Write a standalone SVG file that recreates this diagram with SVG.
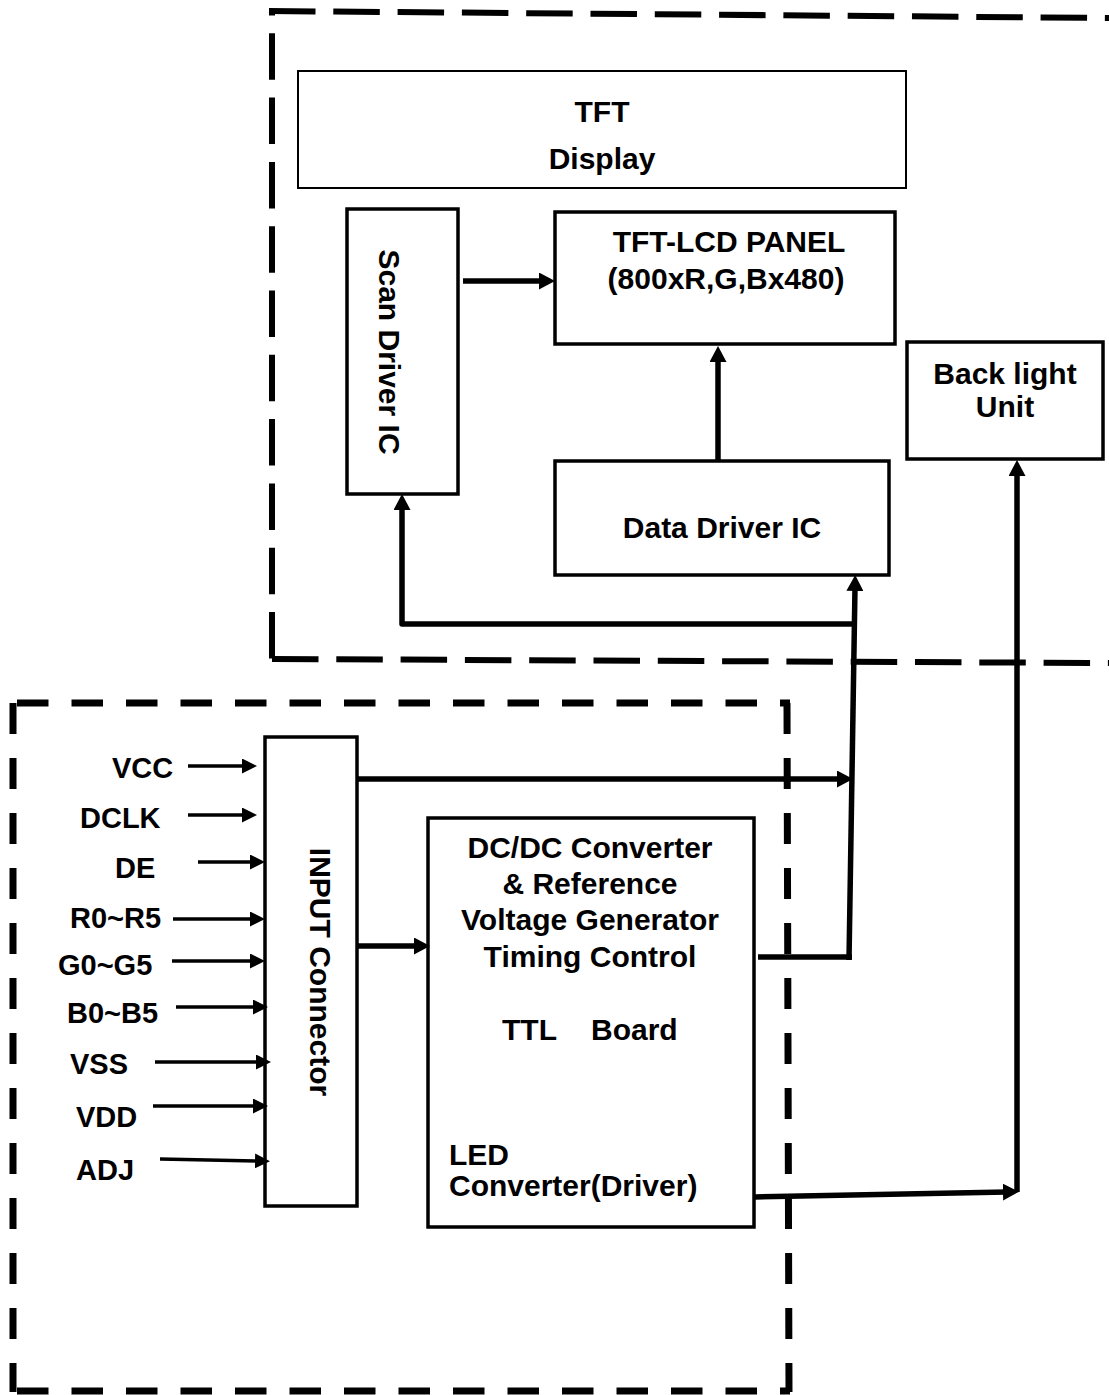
<svg xmlns="http://www.w3.org/2000/svg" width="1109" height="1395" viewBox="0 0 1109 1395">
<style>
text{font-family:"Liberation Sans",Arial,sans-serif;font-weight:bold;font-size:30px;fill:#000}
.lbl{font-size:29px}
.box{fill:#fff;stroke:#000;stroke-width:3.5}
.thin{fill:#fff;stroke:#000;stroke-width:2}
.dash1{fill:none;stroke:#000;stroke-width:6;stroke-dasharray:46.5 17.8}
.dash2{fill:none;stroke:#000;stroke-width:7;stroke-dasharray:31.5 23}
.conn{fill:none;stroke:#000;stroke-width:5.5}
.inp{fill:none;stroke:#000;stroke-width:3.5}
</style>
<defs>
<marker id="ah" markerUnits="userSpaceOnUse" markerWidth="16" markerHeight="17" refX="4" refY="8.5" orient="auto" viewBox="0 0 16 17">
<path d="M0,0 L16,8.5 L0,17 z" fill="#000"/>
</marker>
<marker id="ahs" markerUnits="userSpaceOnUse" markerWidth="15" markerHeight="15" refX="4" refY="7.5" orient="auto" viewBox="0 0 15 15">
<path d="M0,0 L15,7.5 L0,15 z" fill="#000"/>
</marker>
</defs>

<g id="boundaries">
<path class="dash1" d="M269,11 L1109,18"/>
<path class="dash1" d="M272,11 L272,662" style="stroke-dashoffset:42"/>
<path class="dash1" d="M272,659 L1109,663"/>
<path class="dash2" d="M17,703 L790,703"/>
<path class="dash2" d="M13,703 L13,1392" style="stroke-dasharray:31 24"/>
<path class="dash2" d="M787,703 L789,1392" style="stroke-dasharray:31 24"/>
<path class="dash2" d="M17,1391 L790,1391"/>
</g>

<g id="tft-display">
<rect class="thin" x="298" y="71" width="608" height="117"/>
<text x="602" y="122" text-anchor="middle">TFT</text>
<text x="602" y="169" text-anchor="middle">Display</text>
</g>

<g id="scan-driver">
<rect class="box" x="347" y="209" width="111" height="285"/>
<text transform="translate(379,352) rotate(90)" text-anchor="middle">Scan Driver IC</text>
</g>

<g id="tft-lcd-panel">
<rect class="box" x="555" y="212" width="340" height="132"/>
<text x="729" y="252" text-anchor="middle">TFT-LCD PANEL</text>
<text x="726" y="289" text-anchor="middle">(800xR,G,Bx480)</text>
</g>

<g id="data-driver">
<rect class="box" x="555" y="461" width="334" height="114"/>
<text x="722" y="538" text-anchor="middle">Data Driver IC</text>
</g>

<g id="backlight">
<rect class="box" x="907" y="342" width="196" height="117"/>
<text x="1005" y="384" text-anchor="middle">Back light</text>
<text x="1005" y="417" text-anchor="middle">Unit</text>
</g>

<g id="input-connector">
<rect class="box" x="265" y="737" width="92" height="469"/>
<text transform="translate(310,972) rotate(90)" text-anchor="middle">INPUT Connector</text>
</g>

<g id="ttl-board">
<rect class="box" x="428" y="818" width="326" height="409"/>
<text x="590" y="858" text-anchor="middle">DC/DC Converter</text>
<text x="590" y="894" text-anchor="middle">&amp; Reference</text>
<text x="590" y="930" text-anchor="middle">Voltage Generator</text>
<text x="590" y="967" text-anchor="middle">Timing Control</text>
<text x="502" y="1040">TTL</text>
<text x="591" y="1040">Board</text>
<text x="449" y="1165">LED</text>
<text x="449" y="1196">Converter(Driver)</text>
</g>

<g id="input-labels">
<text class="lbl" x="112" y="778">VCC</text>
<text class="lbl" x="80" y="828">DCLK</text>
<text class="lbl" x="115" y="878">DE</text>
<text class="lbl" x="70" y="928">R0~R5</text>
<text class="lbl" x="58" y="975">G0~G5</text>
<text class="lbl" x="67" y="1023">B0~B5</text>
<text class="lbl" x="70" y="1074">VSS</text>
<text class="lbl" x="76" y="1127">VDD</text>
<text class="lbl" x="76" y="1180">ADJ</text>
</g>

<g id="connectors">
<line class="conn" x1="463" y1="281" x2="543" y2="281" marker-end="url(#ah)"/>
<line class="conn" x1="718" y1="461" x2="718" y2="358" marker-end="url(#ah)"/>
<polyline class="conn" points="855,624 402,624 402,506" marker-end="url(#ah)" stroke-linejoin="round"/>
<line class="conn" x1="849" y1="960" x2="855" y2="587" marker-end="url(#ah)"/>
<line class="conn" x1="358" y1="779" x2="841" y2="779" marker-end="url(#ah)"/>
<line class="conn" x1="758" y1="957" x2="852" y2="957"/>
<line class="conn" x1="358" y1="946" x2="418" y2="946" marker-end="url(#ah)"/>
<line class="conn" x1="755" y1="1197" x2="1007" y2="1192" marker-end="url(#ah)"/>
<line class="conn" x1="1017" y1="1192" x2="1017" y2="472" marker-end="url(#ah)"/>

<line class="inp" x1="188" y1="766" x2="246" y2="766" marker-end="url(#ahs)"/>
<line class="inp" x1="188" y1="815" x2="246" y2="815" marker-end="url(#ahs)"/>
<line class="inp" x1="198" y1="862" x2="254" y2="862" marker-end="url(#ahs)"/>
<line class="inp" x1="173" y1="919" x2="254" y2="919" marker-end="url(#ahs)"/>
<line class="inp" x1="172" y1="961" x2="254" y2="961" marker-end="url(#ahs)"/>
<line class="inp" x1="176" y1="1007" x2="257" y2="1007" marker-end="url(#ahs)"/>
<line class="inp" x1="155" y1="1062" x2="260" y2="1062" marker-end="url(#ahs)"/>
<line class="inp" x1="153" y1="1106" x2="257" y2="1106" marker-end="url(#ahs)"/>
<line class="inp" x1="160" y1="1159" x2="259" y2="1161" marker-end="url(#ahs)"/>
</g>
</svg>
